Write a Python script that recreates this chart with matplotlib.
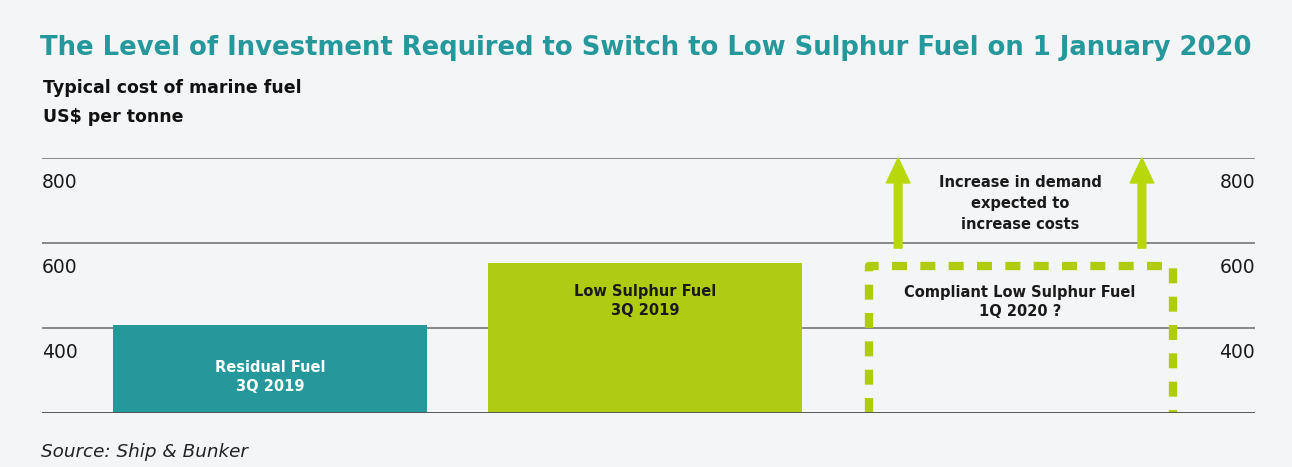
import matplotlib.pyplot as plt

# Data
categories = ['Residual Fuel\n3Q 2019', 'Low Sulphur Fuel\n3Q 2019', 'Compliant Low Sulphur Fuel\n1Q 2020 ?']
costs = [408, 552, 545]
y_ticks = [400, 600, 800]
y_base = 200
y_top = 800
arrow_start = 588

BG = '#f4f5f7'
TEAL = '#24989a'
GREEN = '#b0cc12'
ARROW = '#b9d80c'
GRID = '#6b6b6b'

plt.rcParams['font.family'] = ['DejaVu Sans']

fig = plt.figure(figsize=(12.92, 4.67), dpi=100, facecolor=BG)
ax = fig.add_axes([0.0325, 0.1156, 0.939, 0.5461])
ax.set_facecolor(BG)

x = [0, 1, 2]
w = 0.837

# Bars
ax.bar(x[0], costs[0] - y_base, bottom=y_base, width=w, color=TEAL, zorder=2)
ax.bar(x[1], costs[1] - y_base, bottom=y_base, width=w, color=GREEN, zorder=2)

# Dashed outline for the expected 2020 fuel
x0, x1 = x[2] - w / 2 + 0.015, x[2] + w / 2 - 0.01
ax.plot([x0, x0, x1, x1], [y_base, costs[2], costs[2], y_base],
        color=GREEN, lw=6, linestyle=(0, (1.8, 1.6)), solid_capstyle='butt', zorder=3)

# Gridlines
for t in y_ticks:
    ax.axhline(t, color=GRID, lw=1.1, zorder=1)
ax.axhline(y_base, color='#555555', lw=1.4, zorder=4)

# Tick labels on both sides, just below the gridlines
for t in y_ticks:
    ax.annotate(str(t), xy=(0, t), xycoords=('axes fraction', 'data'),
                xytext=(0, -11), textcoords='offset points',
                ha='left', va='top', fontsize=13.5, color='#1a1a1a')
    ax.annotate(str(t), xy=(1, t), xycoords=('axes fraction', 'data'),
                xytext=(0, -11), textcoords='offset points',
                ha='right', va='top', fontsize=13.5, color='#1a1a1a')

# Arrows
for ax_x in [x[2] - 0.325, x[2] + 0.325]:
    ax.annotate('', xy=(ax_x, y_top), xytext=(ax_x, arrow_start),
                arrowprops=dict(arrowstyle='simple,head_width=0.85,head_length=0.9,tail_width=0.28',
                                mutation_scale=20, color=ARROW, shrinkA=0, shrinkB=0),
                zorder=5)

# Bar labels
ax.text(x[0], 285, categories[0], ha='center', va='center', color='white',
        fontsize=10.5, fontweight='bold', linespacing=1.35, zorder=5)
ax.text(x[1], 463, categories[1], ha='center', va='center', color='#1a1a1a',
        fontsize=10.5, fontweight='bold', linespacing=1.35, zorder=5)
ax.text(x[2], 461, categories[2], ha='center', va='center', color='#1a1a1a',
        fontsize=10.5, fontweight='bold', linespacing=1.35, zorder=5)
ax.text(x[2], 694, 'Increase in demand\nexpected to\nincrease costs', ha='center', va='center',
        color='#1a1a1a', fontsize=10.5, fontweight='bold', linespacing=1.5, zorder=5)

ax.set_xlim(-0.608, 2.627)
ax.set_ylim(y_base, y_top)
ax.set_xticks([])
ax.set_yticks([])
for s in ax.spines.values():
    s.set_visible(False)

# Titles and source
fig.text(0.031, 0.897, 'The Level of Investment Required to Switch to Low Sulphur Fuel on 1 January 2020',
         ha='left', va='center', fontsize=18.6, fontweight='bold', color=TEAL)
fig.text(0.033, 0.812, 'Typical cost of marine fuel', ha='left', va='center',
         fontsize=12.5, fontweight='bold', color='#111111')
fig.text(0.033, 0.749, 'US$ per tonne', ha='left', va='center',
         fontsize=12.5, fontweight='bold', color='#111111')
fig.text(0.032, 0.032, 'Source: Ship & Bunker', ha='left', va='center',
         fontsize=13.2, style='italic', color='#222222')

fig.savefig('out.png', dpi=100, facecolor=BG)
